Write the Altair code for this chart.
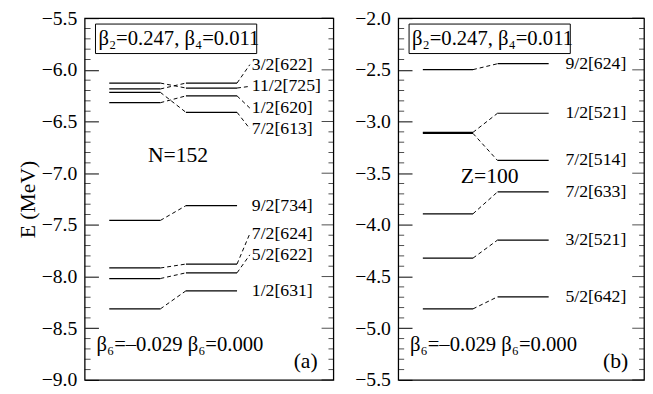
import altair as alt
import pandas as pd

FONT = "Liberation Serif, Times New Roman, serif"

# ---------------- data ----------------
# Panel (a): neutrons, N=152
n_labels = ["3/2[622]", "11/2[725]", "1/2[620]", "7/2[613]",
            "9/2[734]", "7/2[624]", "5/2[622]", "1/2[631]"]
n_e_beta6 = [-6.185, -6.128, -6.318, -6.218, -7.457, -7.917, -8.019, -8.313]   # beta6 = -0.029
n_e_zero = [-6.128, -6.176, -6.252, -6.411, -7.314, -7.879, -7.964, -8.138]    # beta6 = 0.000
n_e_text = [-5.950, -6.160, -6.370, -6.570, -7.314, -7.585, -7.790, -8.138]    # label heights
n_ticks = [-9.0, -8.5, -8.0, -7.5, -7.0, -6.5, -6.0, -5.5]

# Panel (b): protons, Z=100
z_labels = ["9/2[624]", "1/2[521]", "7/2[514]", "7/2[633]", "3/2[521]", "5/2[642]"]
z_e_beta6 = [-2.498, -3.105, -3.115, -3.893, -4.322, -4.813]
z_e_zero = [-2.441, -2.920, -3.377, -3.681, -4.147, -4.696]
z_e_text = [-2.441, -2.920, -3.377, -3.681, -4.147, -4.696]
z_ticks = [-5.5, -5.0, -4.5, -4.0, -3.5, -3.0, -2.5, -2.0]

box_text = "β₂=0.247,  β₄=0.011"
beta6_text = "β₆=–0.029  β₆=0.000"

HEIGHT = 368


def minor_of(ticks):
    out = []
    for a in ticks[:-1]:
        for i in range(1, 5):
            out.append(round(a + 0.1 * i, 2))
    return out


def panel(labels, e_b6, e_0, e_txt, ticks, width, cols, nuc_text, nuc_pos, tag, title):
    xl0, xl1, xr0, xr1, xc, xt = cols
    xs = alt.Scale(domain=[0, width], nice=False, zero=False)
    ys = alt.Scale(domain=[ticks[0], ticks[-1]], nice=False, zero=False)

    lev = []
    for e in e_b6:
        lev.append({"x0": xl0, "x1": xl1, "y0": e, "y1": e})
    for e in e_0:
        lev.append({"x0": xr0, "x1": xr1, "y0": e, "y1": e})
    dash = []
    for a, b in zip(e_b6, e_0):
        dash.append({"x0": xl1, "x1": xr0, "y0": a, "y1": b})
    for b, t in zip(e_0, e_txt):
        if abs(t - b) > 0.01:
            dash.append({"x0": xr1, "x1": xc, "y0": b, "y1": t})
    lev = pd.DataFrame(lev)
    dash = pd.DataFrame(dash)
    txt = pd.DataFrame({"y0": e_txt, "label": labels, "x": [xt] * len(labels)})

    ax_kw = dict(orient="left", values=ticks, tickSize=14, offset=-14,
                 domain=False, grid=False, tickColor="black", tickWidth=1,
                 format=".1f", labelPadding=8, labelFont=FONT, labelFontSize=20,
                 labelColor="black")
    if title:
        ax_kw.update(title=title, titleFont=FONT, titleFontSize=22,
                     titleFontWeight="normal", titleColor="black", titlePadding=2)
    else:
        ax_kw.update(title=None)

    def Y():
        return alt.Y("y0:Q", scale=ys, axis=alt.Axis(**ax_kw))

    levels = alt.Chart(lev).mark_rule(color="black", strokeWidth=1.25).encode(
        x=alt.X("x0:Q", scale=xs, axis=None),
        x2="x1:Q",
        y=Y(),
        y2="y1:Q",
    )
    dashes = alt.Chart(dash).mark_rule(color="black", strokeWidth=1,
                                       strokeDash=[4, 3]).encode(
        x=alt.X("x0:Q", scale=xs, axis=None),
        x2="x1:Q",
        y=Y(),
        y2="y1:Q",
    )
    lab = alt.Chart(txt).mark_text(align="left", baseline="middle", font=FONT,
                                   fontSize=18, color="black").encode(
        x=alt.X("x:Q", scale=xs, axis=None),
        y=Y(),
        text="label:N",
    )

    one = pd.DataFrame({"a": [0]})
    box = alt.Chart(one).mark_rect(filled=False, stroke="black", strokeWidth=1).encode(
        x=alt.value(11), x2=alt.value(175), y=alt.value(6), y2=alt.value(36))
    box_t = alt.Chart(one).mark_text(text=box_text, align="left", baseline="alphabetic",
                                     font=FONT, fontSize=21, color="black").encode(
        x=alt.value(14), y=alt.value(27))
    b6_t = alt.Chart(one).mark_text(text=beta6_text, align="left", baseline="alphabetic",
                                    font=FONT, fontSize=21, color="black").encode(
        x=alt.value(12), y=alt.value(339))
    nuc = alt.Chart(one).mark_text(text=nuc_text, align="center", baseline="middle",
                                   font=FONT, fontSize=22, color="black").encode(
        x=alt.value(nuc_pos[0]), y=alt.value(nuc_pos[1]))
    tg = alt.Chart(one).mark_text(text=tag, align="right", baseline="middle",
                                  font=FONT, fontSize=22, color="black").encode(
        x=alt.value(width - 16), y=alt.value(349))

    major = pd.DataFrame({"y0": ticks})
    minor = pd.DataFrame({"y0": minor_of(ticks)})

    def tick_layer(df, xpos, size):
        return alt.Chart(df).mark_tick(color="black", thickness=1, size=size,
                                       orient="horizontal").encode(
            x=alt.value(xpos),
            y=Y())

    ticks_l = tick_layer(minor, 3, 6)
    ticks_r = tick_layer(major, width - 6, 12)
    ticks_rm = tick_layer(minor, width - 2.5, 5)

    return alt.layer(levels, dashes, lab, box, box_t, b6_t, nuc, tg,
                     ticks_l, ticks_r, ticks_rm).properties(width=width, height=HEIGHT)


left = panel(n_labels, n_e_beta6, n_e_zero, n_e_text, n_ticks, 253,
             (25, 77, 103, 155, 168, 170), "N=152", (95, 139), "(a)", "E (MeV)")
right = panel(z_labels, z_e_beta6, z_e_zero, z_e_text, z_ticks, 250,
              (25, 76, 101, 153, 166, 170), "Z=100", (93, 161), "(b)", None)

chart = alt.hconcat(left, right, spacing=20).properties(
    padding={"left": 8, "top": -4, "right": 0, "bottom": 0}
).configure_view(stroke="black", strokeWidth=1.3)

chart.save("out.html", embed_options={"renderer": "svg", "actions": False})
